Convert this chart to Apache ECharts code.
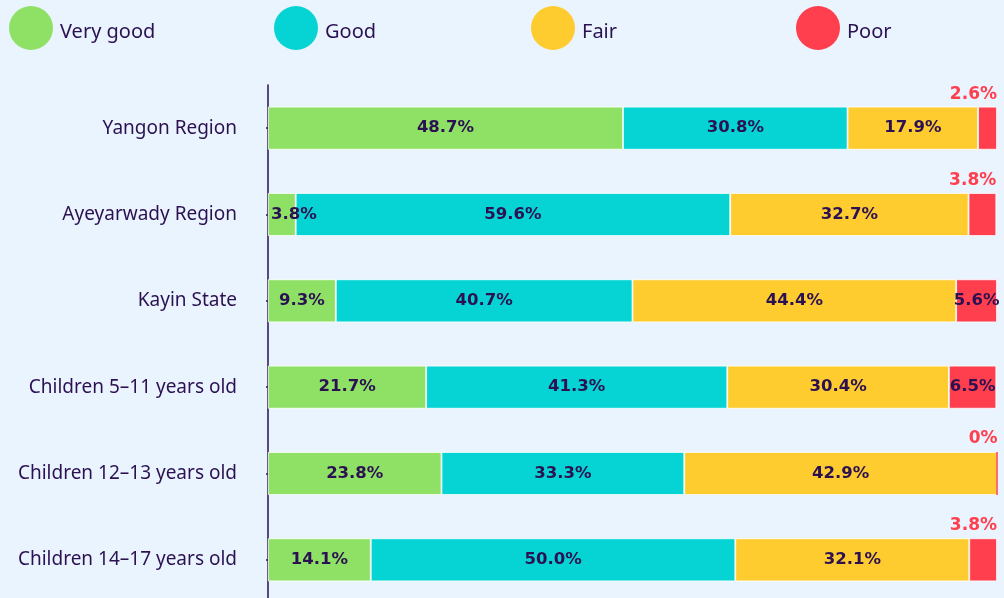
<!DOCTYPE html>
<html>
<head>
<meta charset="utf-8">
<script src="https://cdn.jsdelivr.net/npm/echarts@6/dist/echarts.min.js"></script>
<style>
  html, body { margin: 0; padding: 0; background: #eaf4fe; }
  #chart { width: 1004px; height: 598px; }
</style>
</head>
<body>
<div id="chart"></div>
<script>
const categories = [
  'Yangon Region',
  'Ayeyarwady Region',
  'Kayin State',
  'Children 5\u201311 years old',
  'Children 12\u201313 years old',
  'Children 14\u201317 years old'
];
const veryGood = [48.7, 3.8, 9.3, 21.7, 23.8, 14.1];
const good = [30.8, 59.6, 40.7, 41.3, 33.3, 50.0];
const fair = [17.9, 32.7, 44.4, 30.4, 42.9, 32.1];
const poor = [2.6, 3.8, 5.6, 6.5, 0, 3.8];

const seriesNames = ['Very good', 'Good', 'Fair', 'Poor'];
const colors = ['#8fe166', '#06d4d4', '#ffcc2f', '#ff3e4e'];

const textDark = '#2b1152';
const fontFamily = '"Noto Sans", sans-serif';
const valueFont = '"DejaVu Sans", sans-serif';

const chart = echarts.init(document.getElementById('chart'));

const fmt = v => (v === 0 ? '0%' : v.toFixed(1) + '%');

const baseLabel = {
  show: true,
  position: 'inside',
  color: textDark,
  fontFamily: valueFont,
  fontWeight: 'bold',
  fontSize: 16.5,
  formatter: p => fmt(p.value)
};

// small values get their label pushed to a different spot
const veryGoodData = veryGood.map(v => v < 5
  ? { value: v, label: { position: 'insideLeft', distance: 3 } }
  : v);

const poorData = poor.map(v => v < 5
  ? {
      value: v,
      label: {
        position: ['100%', -4],
        align: 'right',
        verticalAlign: 'bottom',
        color: '#ff3e4e',
        fontSize: 17
      },
      itemStyle: v === 0 ? { borderColor: '#ff3e4e', borderWidth: 1 } : {}
    }
  : v);

const allData = [veryGoodData, good, fair, poorData];

const legendLefts = [9, 274, 531, 796];

const option = {
  backgroundColor: '#eaf4fe',
  animation: false,
  color: colors,
  legend: seriesNames.map((name, i) => ({
    data: [name],
    left: legendLefts[i],
    top: 6,
    padding: 0,
    icon: 'circle',
    itemWidth: 44,
    itemHeight: 44,
    itemGap: 0,
    selectedMode: false,
    itemStyle: { borderWidth: 0 },
    formatter: '{t|{name}}',
    textStyle: {
      rich: {
        t: {
          fontFamily: fontFamily,
          fontSize: 20,
          color: textDark,
          padding: [8, 0, 0, 2]
        }
      }
    }
  })),
  grid: {
    left: 268,
    right: 7,
    top: 85,
    height: 518,
    outerBoundsMode: 'none',
    containLabel: false
  },
  xAxis: {
    type: 'value',
    min: 0,
    max: 100,
    show: false
  },
  yAxis: {
    type: 'category',
    data: categories,
    inverse: true,
    axisLine: { lineStyle: { color: textDark, width: 1.5 } },
    axisTick: { show: true, length: 2, alignWithLabel: true, lineStyle: { color: textDark, width: 1.5 } },
    axisLabel: {
      margin: 31,
      fontFamily: fontFamily,
      fontSize: 19,
      color: textDark
    }
  },
  series: seriesNames.map((name, i) => ({
    name: name,
    type: 'bar',
    stack: 'total',
    barWidth: 43,
    data: allData[i],
    itemStyle: { color: colors[i], borderColor: '#ffffff', borderWidth: 0.8 },
    label: baseLabel
  }))
};

chart.setOption(option);
</script>
</body>
</html>
